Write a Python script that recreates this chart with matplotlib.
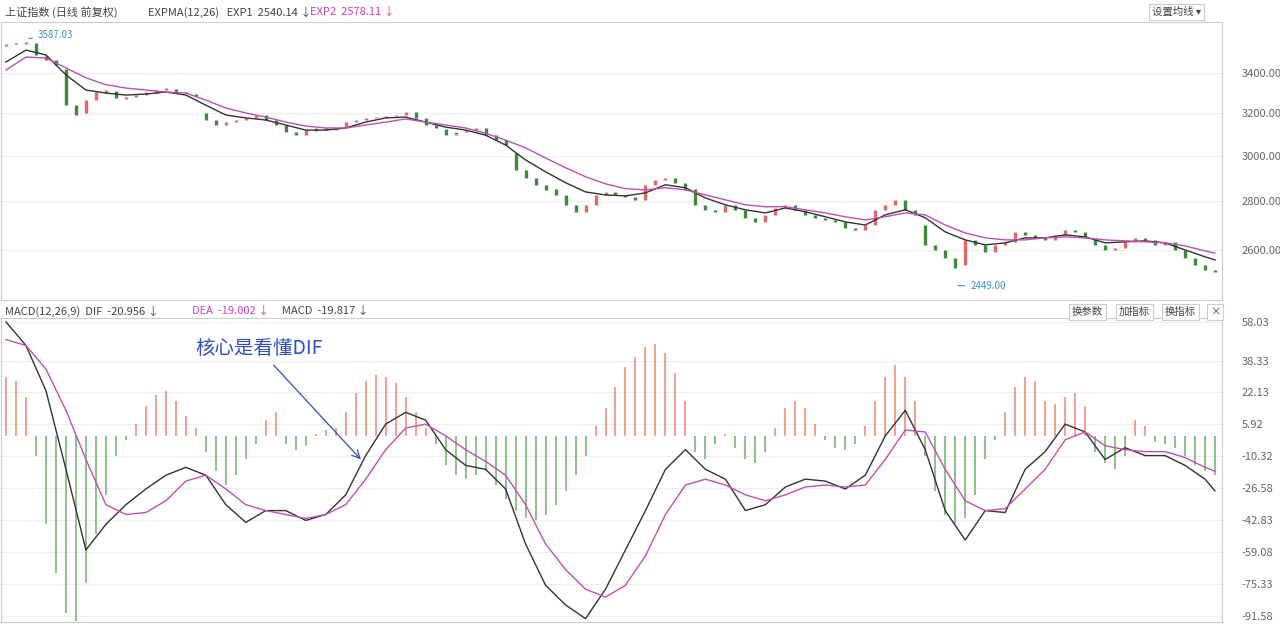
import numpy as np
import matplotlib.pyplot as plt
from matplotlib.ticker import FixedLocator, NullLocator

plt.rcParams['font.family'] = ['Noto Sans CJK SC', 'DejaVu Sans']

# daily candles (open / close)
closes = [3552, 3552, 3565, 3494, 3468, 3441, 3238, 3190, 3263, 3303,
          3313, 3273, 3278, 3288, 3303, 3313, 3323, 3303, 3298, 3283,
          3166, 3142, 3156, 3166, 3176, 3190, 3166, 3142, 3108, 3094,
          3118, 3128, 3118, 3128, 3156, 3166, 3176, 3180, 3185, 3190,
          3204, 3176, 3142, 3128, 3094, 3108, 3118, 3128, 3094, 3071,
          3048, 2936, 2901, 2870, 2848, 2826, 2784, 2755, 2784, 2826,
          2839, 2826, 2818, 2805, 2870, 2892, 2901, 2879, 2848, 2784,
          2763, 2755, 2784, 2763, 2730, 2713, 2742, 2771, 2784, 2763,
          2742, 2730, 2721, 2713, 2688, 2680, 2700, 2763, 2784, 2805,
          2763, 2742, 2620, 2600, 2569, 2530, 2640, 2620, 2592, 2620,
          2632, 2672, 2660, 2648, 2640, 2660, 2680, 2672, 2648, 2620,
          2600, 2608, 2632, 2648, 2640, 2620, 2632, 2600, 2569, 2541,
          2522, 2514]
opens = [3540, 3555, 3550, 3560, 3490, 3465, 3420, 3240, 3200, 3265,
         3300, 3310, 3270, 3280, 3290, 3300, 3315, 3320, 3305, 3295,
         3200, 3165, 3140, 3155, 3165, 3175, 3190, 3165, 3140, 3110,
         3095, 3115, 3130, 3118, 3130, 3155, 3165, 3175, 3180, 3185,
         3190, 3205, 3175, 3140, 3125, 3095, 3108, 3118, 3128, 3095,
         3070, 3010, 2935, 2900, 2870, 2850, 2826, 2785, 2755, 2785,
         2826, 2840, 2826, 2818, 2805, 2870, 2890, 2900, 2879, 2850,
         2785, 2763, 2755, 2785, 2763, 2730, 2713, 2742, 2770, 2785,
         2763, 2742, 2730, 2721, 2713, 2688, 2680, 2700, 2763, 2784,
         2805, 2763, 2700, 2620, 2600, 2569, 2540, 2640, 2620, 2592,
         2620, 2632, 2672, 2660, 2648, 2640, 2660, 2680, 2672, 2648,
         2620, 2600, 2608, 2632, 2648, 2640, 2620, 2632, 2600, 2569,
         2541, 2522]

# line samples (every 2nd candle + last)
line_idx = list(range(0, 122, 2)) + [121]
exp1 = [3457, 3520, 3494, 3390, 3313, 3298, 3288, 3293, 3303, 3288,
        3238, 3190, 3176, 3166, 3142, 3118, 3118, 3128, 3156, 3176,
        3180, 3156, 3132, 3118, 3094, 3048, 2980, 2927, 2879, 2839,
        2826, 2822, 2835, 2870, 2857, 2813, 2784, 2763, 2750, 2771,
        2755, 2734, 2713, 2700, 2742, 2763, 2730, 2672, 2640, 2620,
        2628, 2648, 2648, 2660, 2652, 2628, 2632, 2636, 2628, 2600,
        2573, 2561]
exp2 = [3415, 3483, 3478, 3426, 3375, 3340, 3323, 3313, 3303, 3298,
        3263, 3224, 3200, 3180, 3156, 3137, 3128, 3128, 3142, 3156,
        3171, 3156, 3142, 3128, 3103, 3071, 3035, 2989, 2945, 2905,
        2874, 2853, 2848, 2857, 2848, 2826, 2805, 2784, 2776, 2776,
        2763, 2750, 2734, 2721, 2734, 2750, 2742, 2700, 2668, 2648,
        2640, 2640, 2648, 2652, 2648, 2640, 2636, 2632, 2628, 2616,
        2596, 2588]
dif = [58, 46, 23, -17, -58, -45, -35, -27, -20, -16,
       -20, -35, -44, -38, -38, -43, -40, -30, -10, 6,
       12, 8, -7, -15, -17, -27, -55, -76, -86, -93,
       -78, -58, -38, -17, -7, -17, -22, -38, -35, -26,
       -22, -23, -27, -20, 0, 13, -7, -38, -53, -38,
       -39, -17, -8, 6, 2, -12, -6, -10, -10, -15,
       -22, -28]
dea = [49, 46, 34, 13, -12, -35, -40, -39, -33, -23,
       -20, -27, -35, -38, -40, -42, -40, -35, -22, -7,
       4, 6, 0, -7, -13, -20, -35, -55, -68, -78,
       -82, -76, -61, -40, -25, -22, -25, -30, -33, -30,
       -26, -25, -26, -25, -12, 3, 2, -17, -33, -38,
       -37, -27, -17, -2, 2, -5, -7, -8, -8, -11,
       -16, -18]
macd = [30, 28, 20, -10, -45, -70, -90, -94, -75, -50,
        -30, -10, -2, 6, 15, 21, 23, 18, 10, 4,
        -8, -18, -25, -20, -12, -4, 8, 12, -4, -7,
        -5, 1, 3, 4, 12, 22, 28, 31, 30, 27,
        20, 12, 4, -4, -15, -20, -22, -20, -18, -25,
        -32, -38, -42, -43, -40, -35, -28, -20, -10, 5,
        14, 25, 35, 40, 45, 47, 42, 32, 18, -8,
        -12, -4, 1, -6, -12, -14, -8, 4, 14, 18,
        14, 6, -2, -6, -7, -4, 5, 18, 30, 36,
        30, 18, -10, -28, -40, -45, -42, -30, -12, -2,
        12, 25, 30, 28, 18, 16, 20, 22, 15, -8,
        -14, -17, -10, 8, 5, -3, -4, -6, -10, -15,
        -18, -20]

price_ticks = [3400, 3200, 3000, 2800, 2600]
macd_ticks = [58.03, 38.33, 22.13, 5.92, -10.32, -26.58, -42.83, -59.08, -75.33, -91.58]

RED = '#e06a6a'
GREEN = '#3d8a3d'
n = len(closes)
x = np.arange(n)

fig = plt.figure(figsize=(12.8, 6.26), dpi=100)
W, H = 1280, 626

def px_axes(l, t, r, b):
    return fig.add_axes([l / W, 1 - b / H, (r - l) / W, (b - t) / H])

ax1 = px_axes(1, 22, 1222, 300)
ax2 = px_axes(1, 318, 1222, 622)

# price panel
for i in x:
    o, c = opens[i], closes[i]
    col = RED if c >= o else GREEN
    lo, hi = min(o, c), max(o, c)
    if hi - lo < 4:
        hi = lo + 4
    ax1.vlines(i, lo, hi, color=col, lw=2.4)
ax1.plot(line_idx, exp1, color='#333333', lw=1.0)
ax1.plot(line_idx, exp2, color='#c050b0', lw=1.0)
ax1.set_yscale('log')
ax1.set_ylim(2410, 3673)
ax1.set_xlim(-0.5, 121.7)
ax1.yaxis.set_major_locator(FixedLocator(price_ticks))
ax1.yaxis.set_minor_locator(NullLocator())
ax1.set_xticks([])
ax1.yaxis.tick_right()
ax1.set_yticklabels([f'{v:.2f}' for v in price_ticks], fontsize=8, color='#666666')
ax1.grid(axis='y', color='#eeeeee', lw=0.8)
ax1.annotate('3587.03', xy=(2, 3580), xytext=(3.2, 3600), fontsize=7, color='#3a8fd8',
             va='center', arrowprops=dict(arrowstyle='-', color='#3a8fd8', lw=0.8))
ax1.annotate('2449.00', xy=(95, 2463), xytext=(96.5, 2463), fontsize=7, color='#3a8fd8',
             va='center', arrowprops=dict(arrowstyle='-', color='#3a8fd8', lw=0.8))

# macd panel
bar_cols = ['#f0907a' if v >= 0 else '#78b878' for v in macd]
ax2.vlines(x, 0, macd, colors=bar_cols, lw=1.2)
ax2.plot(line_idx, dif, color='#333333', lw=1.0)
ax2.plot(line_idx, dea, color='#c050b0', lw=1.0)
ax2.set_ylim(-94.7, 60)
ax2.set_xlim(-0.5, 121.7)
ax2.set_xticks([])
ax2.yaxis.tick_right()
ax2.set_yticks(macd_ticks)
ax2.set_yticklabels([f'{v:.2f}' for v in macd_ticks], fontsize=8, color='#666666')
ax2.grid(axis='y', color='#eeeeee', lw=0.8)
ax2.annotate('核心是看懂DIF', xy=(35.7, -13), xytext=(19, 41), fontsize=14, color='#3050c0',
             arrowprops=dict(arrowstyle='->', color='#3050c0', lw=0.9, shrinkA=2))

for ax in (ax1, ax2):
    ax.tick_params(axis='y', length=0, pad=14)
    for s in ax.spines.values():
        s.set_color('#cccccc')

# headers
fig.text(5 / W, 1 - 12 / H, '上证指数 (日线 前复权)', fontsize=8, color='#444444', va='center')
fig.text(148 / W, 1 - 12 / H, 'EXPMA(12,26)   EXP1  2540.14 ↓', fontsize=8, color='#444444', va='center')
fig.text(310 / W, 1 - 12 / H, 'EXP2  2578.11 ↓', fontsize=8, color='#d040c0', va='center')
fig.text(1152 / W, 1 - 12 / H, '设置均线 ▾', fontsize=7.5, color='#444444', va='center',
         bbox=dict(boxstyle='square,pad=0.25', fc='white', ec='#cccccc', lw=0.8))
fig.text(5 / W, 1 - 311 / H, 'MACD(12,26,9)  DIF  -20.956 ↓', fontsize=8, color='#444444', va='center')
fig.text(192 / W, 1 - 311 / H, 'DEA  -19.002 ↓', fontsize=8, color='#d040c0', va='center')
fig.text(282 / W, 1 - 311 / H, 'MACD  -19.817 ↓', fontsize=8, color='#444444', va='center')
for lbl, xp in [('换参数', 1072), ('加指标', 1119), ('换指标', 1165), ('×', 1210)]:
    fig.text(xp / W, 1 - 312 / H, lbl, fontsize=7.5, color='#444444', va='center',
             bbox=dict(boxstyle='square,pad=0.25', fc='white', ec='#cccccc', lw=0.8))

fig.savefig('out.png', dpi=100)
